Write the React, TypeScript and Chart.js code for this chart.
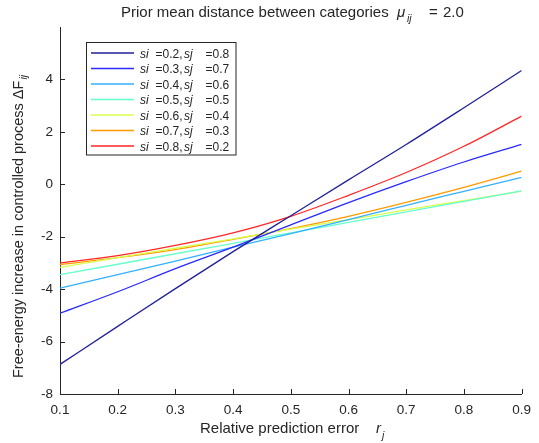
import React, { useEffect, useRef } from "react";
import { Chart, registerables } from "chart.js";

Chart.register(...registerables);

// ---- data ----
const rValues = [0.1, 0.2, 0.3, 0.4, 0.5, 0.6, 0.7, 0.8, 0.9];
const si02_sj08 = [-6.87, -5.42, -3.98, -2.57, -1.2, 0.17, 1.52, 2.92, 4.34];
const si03_sj07 = [-4.92, -4.1, -3.22, -2.4, -1.55, -0.7, 0.1, 0.85, 1.52];
const si04_sj06 = [-3.96, -3.45, -2.93, -2.4, -1.88, -1.35, -0.8, -0.27, 0.26];
const si05_sj05 = [-3.45, -3.05, -2.65, -2.25, -1.85, -1.45, -1.05, -0.65, -0.25];
const si06_sj04 = [-3.17, -2.8, -2.44, -2.08, -1.71, -1.35, -0.98, -0.62, -0.26];
const si07_sj03 = [-3.06, -2.8, -2.49, -2.1, -1.69, -1.22, -0.69, -0.12, 0.5];
const si08_sj02 = [-3.0, -2.72, -2.33, -1.85, -1.22, -0.42, 0.45, 1.45, 2.6];

const seriesValues = [si02_sj08, si03_sj07, si04_sj06, si05_sj05, si06_sj04, si07_sj03, si08_sj02];
const siLabels = ["0.2", "0.3", "0.4", "0.5", "0.6", "0.7", "0.8"];
const sjLabels = ["0.8", "0.7", "0.6", "0.5", "0.4", "0.3", "0.2"];
const seriesColors = ["#20209a", "#2a2aff", "#33b0ff", "#66ffcc", "#d9ff4d", "#ff9900", "#ff2626"];

const xTicks = [0.1, 0.2, 0.3, 0.4, 0.5, 0.6, 0.7, 0.8, 0.9];
const yTicks = [-8, -6, -4, -2, 0, 2, 4];

const titleMain = "Prior mean distance between categories";
const titleSym = "\u03BC";
const titleSub = "ij";
const titleEq = "=";
const titleVal = "2.0";
const xLabelMain = "Relative prediction error";
const xLabelSym = "r";
const xLabelSub = "j";
const yLabelMain = "Free-energy increase in controlled process \u0394F";
const yLabelSub = "ij";

const FONT = "'Liberation Sans', Arial, Helvetica, sans-serif";
const INK = "#262626";

const decorPlugin = {
  id: "decor",
  afterDraw(chart: any) {
    const ctx = chart.ctx as CanvasRenderingContext2D;
    const area = chart.chartArea;
    const xs = chart.scales.x;
    const ys = chart.scales.y;
    ctx.save();
    // inward ticks
    ctx.strokeStyle = INK;
    ctx.lineWidth = 1;
    ctx.beginPath();
    xTicks.forEach((v) => {
      const px = Math.round(xs.getPixelForValue(v)) + 0.5;
      ctx.moveTo(px, area.bottom);
      ctx.lineTo(px, area.bottom - 5);
    });
    yTicks.forEach((v) => {
      const py = Math.round(ys.getPixelForValue(v)) + 0.5;
      ctx.moveTo(area.left, py);
      ctx.lineTo(area.left + 5, py);
    });
    ctx.stroke();

    ctx.fillStyle = INK;
    ctx.textAlign = "left";
    ctx.textBaseline = "alphabetic";

    // title
    ctx.font = `15px ${FONT}`;
    ctx.fillText(titleMain, 121, 17);
    ctx.font = `italic 15px ${FONT}`;
    ctx.fillText(titleSym, 397, 17);
    ctx.font = `italic 10.5px ${FONT}`;
    ctx.fillText(titleSub, 407, 22);
    ctx.font = `15px ${FONT}`;
    ctx.fillText(titleEq, 429, 17);
    ctx.fillText(titleVal, 443, 17);

    // x label
    ctx.font = `15px ${FONT}`;
    ctx.fillText(xLabelMain, 200, 433);
    ctx.font = `italic 15px ${FONT}`;
    ctx.fillText(xLabelSym, 376, 433);
    ctx.font = `italic 10.5px ${FONT}`;
    ctx.fillText(xLabelSub, 382, 439);

    // y label
    ctx.save();
    ctx.translate(23, 378);
    ctx.rotate(-Math.PI / 2);
    ctx.font = `14.5px ${FONT}`;
    ctx.fillText(yLabelMain, 0, 0);
    const w = ctx.measureText(yLabelMain).width;
    ctx.font = `italic 10.5px ${FONT}`;
    ctx.fillText(yLabelSub, w + 1, 4);
    ctx.restore();

    // legend
    const bx = 86.5, by = 42.5, bw = 149.5, bh = 112.5;
    ctx.fillStyle = "#ffffff";
    ctx.fillRect(bx, by, bw, bh);
    ctx.strokeStyle = INK;
    ctx.lineWidth = 1;
    ctx.strokeRect(bx, by, bw, bh);
    for (let i = 0; i < seriesValues.length; i++) {
      const y = 53 + i * 15.5;
      ctx.strokeStyle = seriesColors[i];
      ctx.lineWidth = 1.6;
      ctx.beginPath();
      ctx.moveTo(91, y);
      ctx.lineTo(134, y);
      ctx.stroke();
      const ty = y + 4.5;
      ctx.fillStyle = INK;
      ctx.font = `italic 12px ${FONT}`;
      ctx.fillText("si", 140, ty);
      ctx.font = `12px ${FONT}`;
      ctx.fillText("=" + siLabels[i] + ",", 155.5, ty);
      ctx.font = `italic 12px ${FONT}`;
      ctx.fillText("sj", 184, ty);
      ctx.font = `12px ${FONT}`;
      ctx.fillText("=" + sjLabels[i], 205.5, ty);
    }
    ctx.restore();
  },
};

export default function App() {
  const ref = useRef<HTMLCanvasElement | null>(null);
  useEffect(() => {
    if (!ref.current) return;
    const chart = new Chart(ref.current, {
      type: "line",
      data: {
        datasets: seriesValues.map((vals, i) => ({
          label: `si =${siLabels[i]}, sj =${sjLabels[i]}`,
          data: rValues.map((x, j) => ({ x, y: vals[j] })),
          borderColor: seriesColors[i],
          backgroundColor: seriesColors[i],
          borderWidth: 1.3,
          pointRadius: 0,
          fill: false,
          cubicInterpolationMode: "monotone" as const,
        })),
      },
      options: {
        responsive: false,
        animation: false,
        devicePixelRatio: 1,
        layout: { padding: { left: 0, right: 15, top: 27, bottom: 0 } },
        plugins: { legend: { display: false }, tooltip: { enabled: false }, title: { display: false } },
        scales: {
          x: {
            type: "linear",
            min: 0.1,
            max: 0.9,
            afterBuildTicks: (s: any) => { s.ticks = xTicks.map((v) => ({ value: v })); },
            afterFit: (s: any) => { s.height = 49; },
            grid: { display: true, drawOnChartArea: false, drawTicks: false },
            border: { display: true, color: INK, width: 1 },
            ticks: {
              color: INK,
              padding: 8,
              maxRotation: 0,
              font: { family: FONT, size: 13.5 },
              callback: (v: any) => Number(v).toFixed(1),
            },
          },
          y: {
            type: "linear",
            min: -8,
            max: 6,
            afterBuildTicks: (s: any) => { s.ticks = yTicks.map((v) => ({ value: v })); },
            afterFit: (s: any) => { s.width = 60; },
            grid: { display: true, drawOnChartArea: false, drawTicks: false },
            border: { display: true, color: INK, width: 1 },
            ticks: {
              color: INK,
              padding: 7,
              font: { family: FONT, size: 13.5 },
              callback: (v: any) => String(v),
            },
          },
        },
      },
      plugins: [decorPlugin],
    });
    return () => chart.destroy();
  }, []);
  return (
    <div style={{ position: "absolute", left: 0, top: 0, width: 539, height: 443, background: "#fff" }}>
      <canvas ref={ref} width={539} height={443} />
    </div>
  );
}
